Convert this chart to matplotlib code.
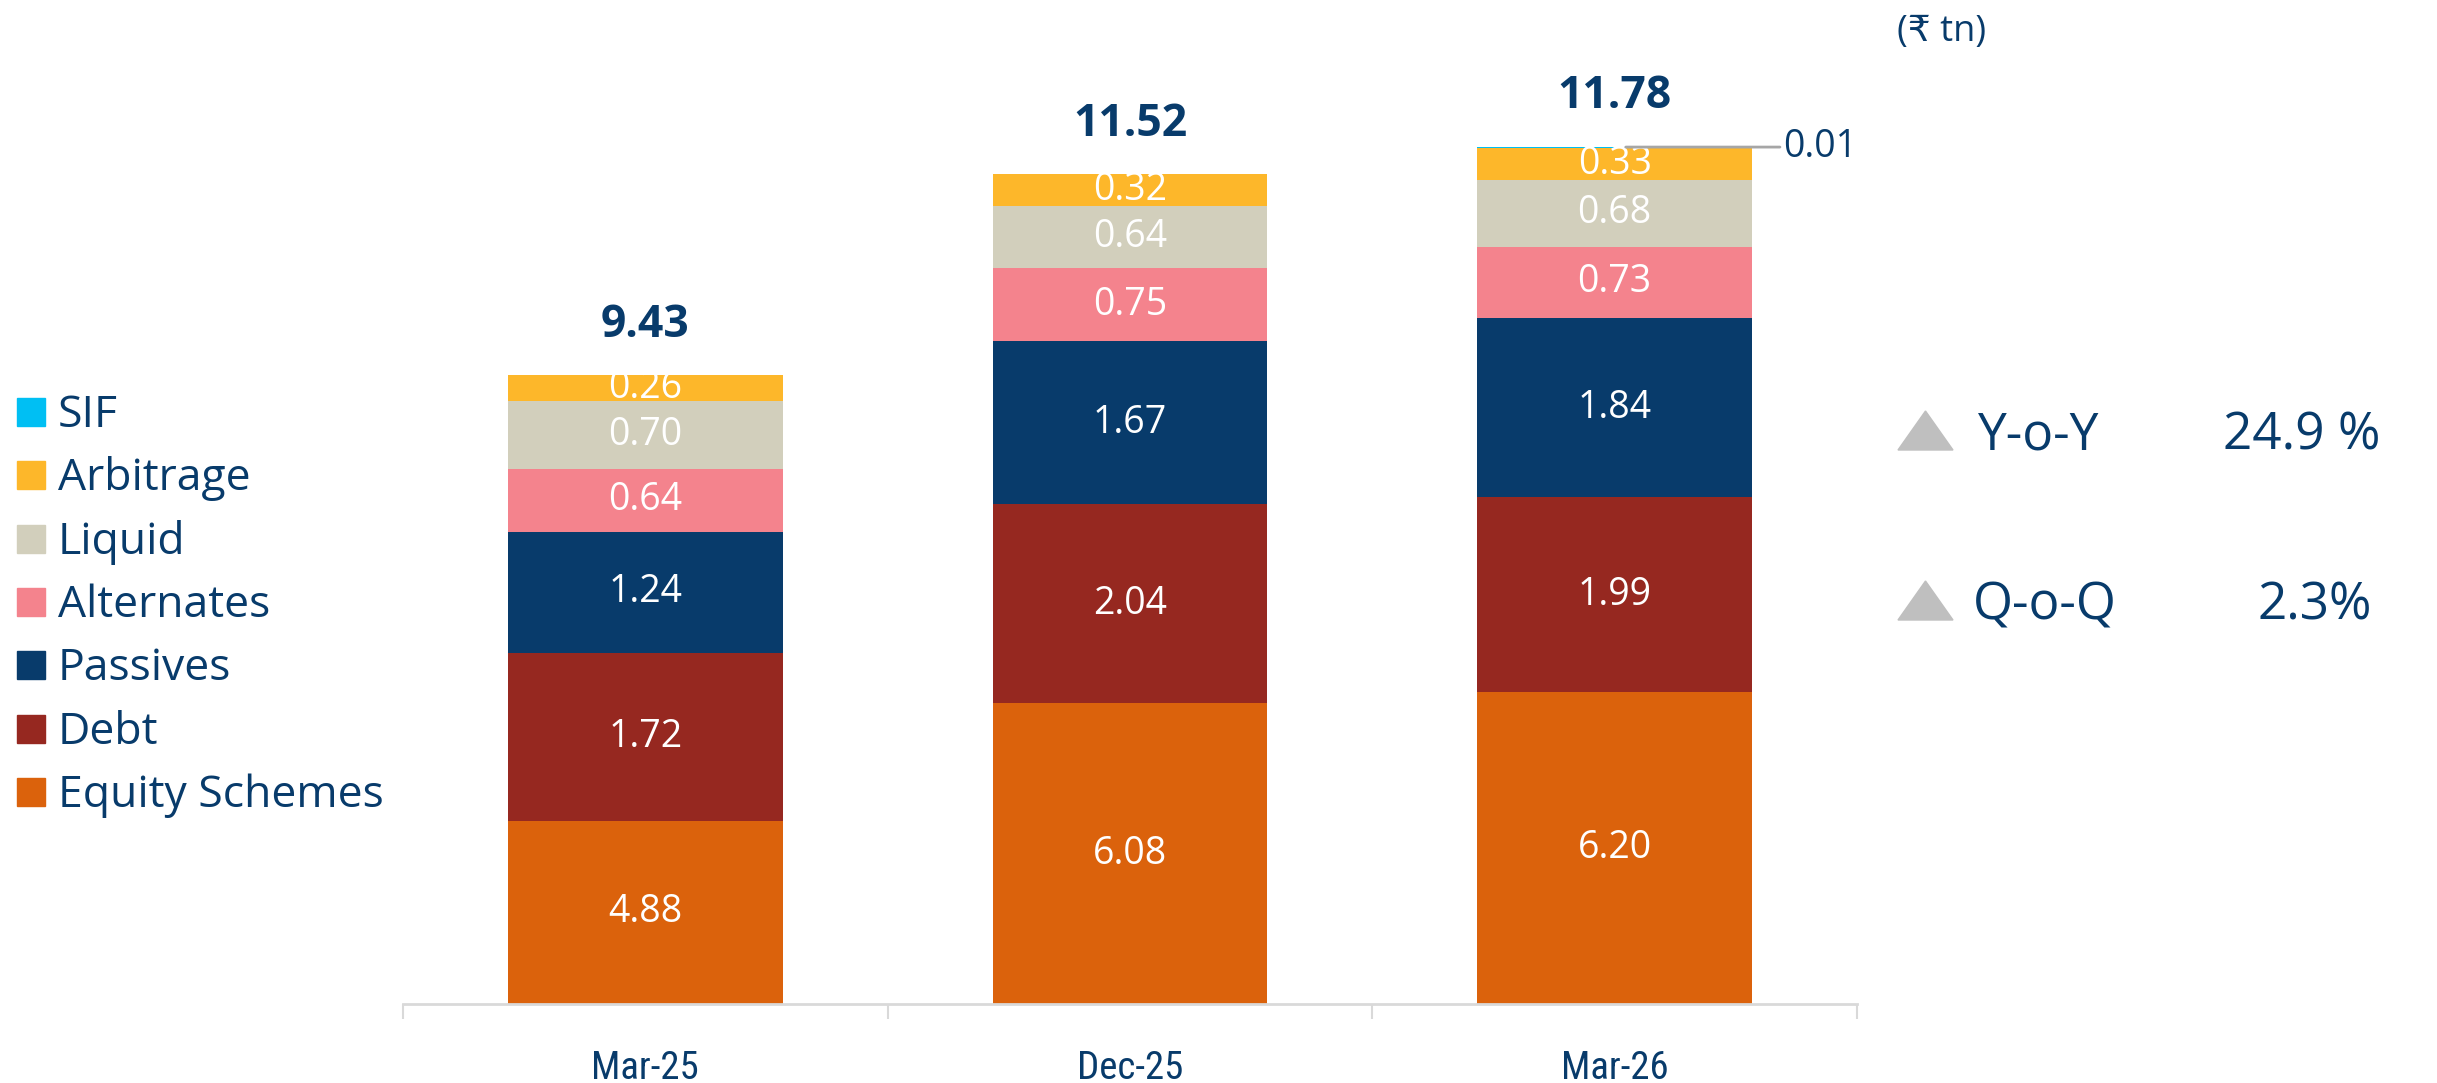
import numpy as np
import matplotlib
matplotlib.use("Agg")
import matplotlib.pyplot as plt
from matplotlib import font_manager
from matplotlib.patches import Rectangle, Polygon

# data (Rs tn)
periods = ["Mar-25", "Dec-25", "Mar-26"]
categories = ["Equity Schemes", "Debt", "Passives", "Alternates", "Liquid", "Arbitrage", "SIF"]
equity = [4.88, 6.08, 6.20]
debt = [1.72, 2.04, 1.99]
passives = [1.24, 1.67, 1.84]
alternates = [0.64, 0.75, 0.73]
liquid = [0.70, 0.64, 0.68]
arbitrage = [0.26, 0.32, 0.33]
sif = [0.0, 0.0, 0.01]
totals = ["9.43", "11.52", "11.78"]
growth_labels = ["Y-o-Y", "Q-o-Q"]
growth_values = ["24.9 %", "2.3%"]

series = [equity, debt, passives, alternates, liquid, arbitrage, sif]
colors = ["#DB620C", "#962820", "#083B6B", "#F4838D", "#D2CFBC", "#FDB72A", "#00BFF3"]
navy = "#083B6B"

W, H = 2437, 1083
fig = plt.figure(figsize=(W / 100, H / 100), dpi=100)
plt.rcParams['font.family'] = ['Open Sans', 'DejaVu Sans']

avail = {f.name for f in font_manager.fontManager.ttflist}
narrow = next((f for f in ["Liberation Sans Narrow", "DejaVu Sans Condensed", "Roboto Condensed"] if f in avail), "Lato")

def fx(px):
    return px / W

def fy(py):
    return 1 - py / H

ppu = 97.6  # px per unit
base = 1004
ax = fig.add_axes([fx(403), fy(base), fx(1857) - fx(403), base / H])
ax.set_xlim(-0.5, 2.5)
ax.set_ylim(3, 3 + base / ppu)

x = np.arange(len(periods))
bottom = np.zeros(len(periods))
for vals, col in zip(series, colors):
    vals = np.array(vals)
    ax.bar(x, vals, 0.567, bottom=bottom, color=col, linewidth=0, zorder=2)
    for i in range(len(x)):
        if vals[i] >= 0.1:
            lo = max(bottom[i], 3)
            ax.text(x[i], (lo + bottom[i] + vals[i]) / 2, f"{vals[i]:.2f}", ha="center", va="center",
                    color="white", fontsize=27)
    bottom += vals

for i in range(len(x)):
    ax.annotate(totals[i], (x[i], bottom[i]), xytext=(0, 28), textcoords="offset points",
                ha="center", va="baseline", fontsize=32, fontweight="bold", color=navy)

# SIF callout
ax.annotate(f"{sif[2]:.2f}", (x[2], bottom[2]), xytext=(121, 0), textcoords="offset points",
            ha="left", va="center", fontsize=27, color=navy,
            arrowprops=dict(arrowstyle="-", color="#A6A6A6", lw=2, shrinkA=0, shrinkB=8))

for s in ["top", "left", "right"]:
    ax.spines[s].set_visible(False)
ax.spines["bottom"].set_color("#D9D9D9")
ax.spines["bottom"].set_linewidth(2)
ax.set_yticks([])
ax.set_xticks(x)
ax.set_xticklabels(periods, fontsize=28, color=navy, family=[narrow, "DejaVu Sans"])
ax.set_xticks(np.arange(-0.5, 3, 1), minor=True)
ax.tick_params(axis="x", which="major", length=0, pad=33)
ax.tick_params(axis="x", which="minor", length=11, width=1.5, color="#D9D9D9")

# legend
for k, (name, col) in enumerate(zip(categories[::-1], colors[::-1])):
    cy = 412 + k * 63.3
    fig.patches.append(Rectangle((fx(17), fy(cy + 14)), fx(28), 28 / H, color=col,
                                 transform=fig.transFigure))
    fig.text(fx(58), fy(cy + 15), name, fontsize=32, color=navy, va="baseline")

# unit
fig.text(fx(1897), fy(41), "(₹ tn)", fontsize=26, color=navy, va="baseline")

# growth block
for k, (lab, val) in enumerate(zip(growth_labels, growth_values)):
    cy = [430, 600][k]
    fig.patches.append(Polygon([(fx(1898), fy(cy + 20)), (fx(1953), fy(cy + 20)), (fx(1925.5), fy(cy - 19))],
                               closed=True, color="#BFBFBF", transform=fig.transFigure))
    fig.text(fx([1978, 1973][k]), fy(cy + 19), lab, fontsize=37, color=navy, va="baseline")
    fig.text(fx([2380, 2372][k]), fy(cy + 19), val, fontsize=37, color=navy, va="baseline", ha="right")

fig.savefig("out.png", dpi=100)
